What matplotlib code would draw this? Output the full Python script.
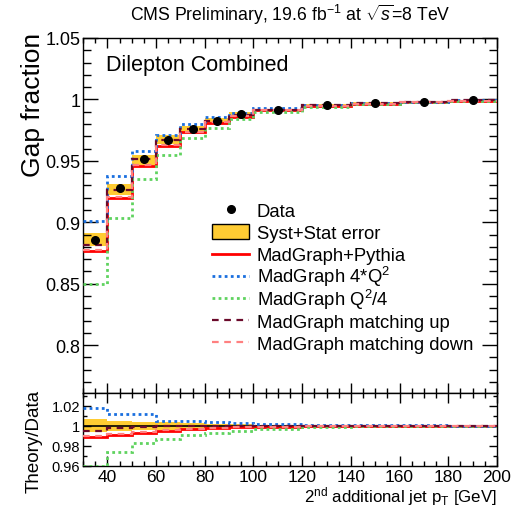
import numpy as np
import matplotlib
matplotlib.use("Agg")
import matplotlib.pyplot as plt
from matplotlib.patches import Rectangle
from matplotlib.ticker import MultipleLocator, FuncFormatter

plt.rcParams['font.family'] = ['Liberation Sans', 'DejaVu Sans']
plt.rcParams['mathtext.fontset'] = 'custom'
plt.rcParams['mathtext.rm'] = 'Liberation Sans'
plt.rcParams['mathtext.it'] = 'Liberation Sans:italic'
plt.rcParams['mathtext.bf'] = 'Liberation Sans:bold'

# ---------------- data ----------------
bin_edges = [30, 40, 50, 60, 70, 80, 90, 100, 120, 140, 160, 180, 200]
bin_centers = [35, 45, 55, 65, 75, 85, 95, 110, 130, 150, 170, 190]

data = [0.8853, 0.9275, 0.9515, 0.9672, 0.9761, 0.9828, 0.9880, 0.9915, 0.9955, 0.9969, 0.9982, 0.9993]
err_up = [0.0057, 0.0040, 0.0035, 0.0035, 0.0025, 0.0018, 0.0015, 0.0010, 0.0008, 0.0006, 0.0005, 0.0004]
err_dn = [0.0046, 0.0050, 0.0045, 0.0035, 0.0025, 0.0018, 0.0015, 0.0010, 0.0008, 0.0006, 0.0005, 0.0004]
mg_pythia = [0.8767, 0.9200, 0.9461, 0.9623, 0.9731, 0.9812, 0.9860, 0.9910, 0.9947, 0.9963, 0.9978, 0.9990]
mg_q2up = [0.9007, 0.9374, 0.9577, 0.9712, 0.9800, 0.9856, 0.9893, 0.9929, 0.9957, 0.9971, 0.9983, 0.9993]
mg_q2down = [0.8497, 0.9037, 0.9353, 0.9550, 0.9686, 0.9767, 0.9840, 0.9899, 0.9942, 0.9961, 0.9976, 0.9988]
mg_match_up = [0.8813, 0.9260, 0.9512, 0.9668, 0.9757, 0.9826, 0.9877, 0.9912, 0.9952, 0.9968, 0.9981, 0.9992]
mg_match_down = [0.8772, 0.9205, 0.9466, 0.9628, 0.9735, 0.9815, 0.9863, 0.9911, 0.9948, 0.9964, 0.9979, 0.9991]

# ratio panel (theory/data)
r_band = [0.0065, 0.0050, 0.0040, 0.0040, 0.0030, 0.0020, 0.0015, 0.0010, 0.0008, 0.0006, 0.0005, 0.0004]
r_mg_pythia = [0.989, 0.991, 0.993, 0.995, 0.997, 0.998, 0.9985, 0.999, 0.9993, 0.9995, 0.9997, 0.9998]
r_q2up = [1.018, 1.012, 1.012, 1.005, 1.005, 1.004, 1.003, 1.0015, 1.001, 1.0005, 1.0003, 1.0002]
r_q2down = [0.9602, 0.974, 0.983, 0.987, 0.991, 0.993, 0.995, 0.997, 0.999, 0.9995, 0.9997, 0.9998]
r_match_up = [0.995, 0.998, 0.999, 0.9995, 1.0, 1.0, 1.0, 1.0, 1.0, 1.0, 1.0, 1.0]
r_match_down = [0.990, 0.992, 0.994, 0.996, 0.997, 0.998, 0.9985, 0.999, 0.9993, 0.9995, 0.9997, 0.9998]

labels = ["Data", "Syst+Stat error", "MadGraph+Pythia", "MadGraph 4*Q$^{2}$",
          "MadGraph Q$^{2}$/4", "MadGraph matching up", "MadGraph matching down"]

# ---------------- style ----------------
c_band = '#ffcc33'
c_red = '#ff0000'
c_blue = '#1a6fdf'
c_green = '#5fd35f'
c_maroon = '#6b0a2b'
c_pink = '#ff8080'
dot = (0, (1.0, 1.2))
dash = (0, (3.0, 2.5))

W, H = 519, 510
fig = plt.figure(figsize=(W / 100, H / 100), dpi=100)
L, R = 83, 497
T1, B1, B2 = 39, 394, 467
ax1 = fig.add_axes([L / W, (H - B1) / H, (R - L) / W, (B1 - T1) / H])
ax2 = fig.add_axes([L / W, (H - B2) / H, (R - L) / W, (B2 - B1) / H])

def axx(px):
    return (px - L) / (R - L)

def axy(py):
    return (B1 - py) / (B1 - T1)

edges = np.array(bin_edges, dtype=float)

styles = [
    dict(color=c_red, lw=2.0, ls='-', zorder=3),
    dict(color=c_blue, lw=2.0, ls=dot, zorder=4),
    dict(color=c_green, lw=2.0, ls=dot, zorder=4),
    dict(color=c_maroon, lw=1.6, ls=dash, zorder=5),
    dict(color=c_pink, lw=1.6, ls=dash, zorder=5),
]

# top panel
lo = np.array(data) - np.array(err_dn)
hi = np.array(data) + np.array(err_up)
ax1.stairs(hi, edges, baseline=lo, fill=True, color=c_band, lw=0, zorder=1)
for vals, st in zip([mg_pythia, mg_q2up, mg_q2down, mg_match_up, mg_match_down], styles):
    ax1.stairs(vals, edges, baseline=None, **st)
ax1.plot(bin_centers, data, 'o', color='black', ms=5.5, zorder=6)
ax1.set_xlim(30, 200)
ax1.set_ylim(0.761, 1.05)

# ratio panel
ax2.stairs(1 + np.array(r_band), edges, baseline=1 - np.array(r_band), fill=True,
           color=c_band, lw=0, zorder=1)
ax2.axhline(1.0, color='black', lw=1.2, zorder=2)
for vals, st in zip([r_mg_pythia, r_q2up, r_q2down, r_match_up, r_match_down], styles):
    ax2.stairs(vals, edges, baseline=None, **st)
ax2.set_xlim(30, 200)
ax2.set_ylim(0.96, 1.0325)

fmt = FuncFormatter(lambda v, p: ('%g' % round(v, 4)))
for ax in (ax1, ax2):
    ax.xaxis.set_major_locator(MultipleLocator(20))
    ax.xaxis.set_minor_locator(MultipleLocator(5))
    ax.tick_params(which='both', direction='in', top=True, right=True, width=1.0, color='black')
    ax.tick_params(axis='x', which='major', length=7)
    ax.tick_params(axis='x', which='minor', length=3.5)
    for s in ax.spines.values():
        s.set_linewidth(1.0)

ax1.yaxis.set_major_locator(MultipleLocator(0.05))
ax1.yaxis.set_minor_locator(MultipleLocator(0.01))
ax1.yaxis.set_major_formatter(fmt)
ax1.tick_params(axis='y', which='major', length=11, labelsize=13, pad=2)
ax1.tick_params(axis='y', which='minor', length=5.5)
ax1.tick_params(axis='x', labelbottom=False)

ax2.yaxis.set_major_locator(MultipleLocator(0.02))
ax2.yaxis.set_minor_locator(MultipleLocator(0.01))
ax2.yaxis.set_major_formatter(fmt)
ax2.tick_params(axis='y', which='major', length=6, labelsize=10.5, pad=2)
ax2.tick_params(axis='y', which='minor', length=3)
ax2.tick_params(axis='x', labelsize=12.5, pad=2)

# legend (drawn row by row with uniform spacing)
hx0, hx1, tx = 211.7, 249.3, 256.7
row_gap = 22.2
for i, lab in enumerate(labels):
    yc = 210.2 + i * row_gap
    yb = 216.7 + i * row_gap
    if i == 0:
        ax1.plot([axx((hx0 + hx1) / 2)], [axy(yc)], 'o', color='black', ms=5.5,
                 transform=ax1.transAxes, clip_on=False)
    elif i == 1:
        ax1.add_patch(Rectangle((axx(hx0), axy(yc + 7.5)), axx(hx1) - axx(hx0),
                                axy(yc - 7.5) - axy(yc + 7.5), facecolor=c_band,
                                edgecolor='black', lw=1.0, transform=ax1.transAxes))
    else:
        st = dict(styles[i - 2])
        st.pop('zorder')
        ax1.plot([axx(hx0), axx(hx1)], [axy(yc), axy(yc)], transform=ax1.transAxes,
                 clip_on=False, **st)
    ax1.text(axx(tx), axy(yb), lab, fontsize=13.3, ha='left', va='baseline',
             transform=ax1.transAxes)

# texts
ax1.text(axx(106), axy(65), "Dilepton Combined", fontsize=15.5,
         ha='left', va='center', transform=ax1.transAxes)
fig.text(130 / W, 1 - 15 / H, "CMS Preliminary, 19.6 fb$^{-1}$ at $\\sqrt{s}$=8 TeV",
         fontsize=12.7, ha='left', va='center')
fig.text(33 / W, 1 - 105 / H, "Gap fraction", fontsize=19, rotation=90, ha='center', va='center')
fig.text(34 / W, 1 - 441 / H, "Theory/Data", fontsize=13.5, rotation=90, ha='center', va='center')
fig.text(R / W, 1 - 502 / H, "2$^{\\mathrm{nd}}$ additional jet p$_{\\mathrm{T}}$ [GeV]",
         fontsize=12.2, ha='right', va='baseline')

fig.savefig("out.png", dpi=100)
